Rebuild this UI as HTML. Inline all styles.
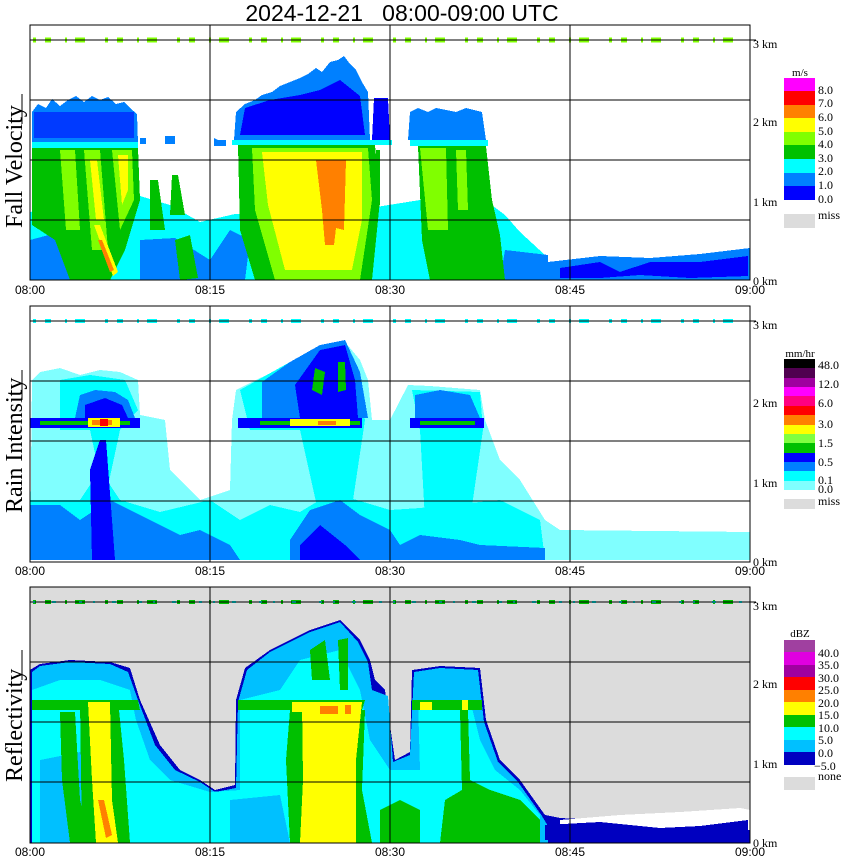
<!DOCTYPE html>
<html><head><meta charset="utf-8"><style>
body{margin:0;background:#fff;}
svg{display:block;font-family:"Liberation Serif",serif;}
.s{font-family:"Liberation Sans",sans-serif;font-size:12px;}
.k{font-size:12px;}
.l{font-size:12px;}
</style></head><body>
<svg width="850" height="868" viewBox="0 0 850 868" shape-rendering="crispEdges">
<text x="402" y="21" text-anchor="middle" font-size="23" font-family="Liberation Sans, sans-serif">2024-12-21&#160;&#160;&#160;08:00-09:00 UTC</text>

<g>
<polygon fill="#00ffff" points="30,212 140,196 170,205 200,222 235,214 370,208 420,200 485,200 505,215 520,232 545,255 548,280 30,280"/>
<polygon fill="#0080ff" points="30,240 60,232 70,280 30,280"/>
<polygon fill="#0080ff" points="140,240 175,238 210,260 230,230 250,240 245,280 140,280"/>
<polygon fill="#0080ff" points="505,250 548,255 548,280 500,280"/>
<polygon fill="#0080ff" points="548,262 600,256 650,258 700,254 750,248 750,280 548,280"/>
<polygon fill="#0000ff" points="560,268 600,262 620,272 650,262 700,262 748,256 748,276 690,278 640,275 600,278 560,278"/>
<polygon fill="#0080ff" points="32,112 38,104 46,108 52,99 60,106 68,100 76,96 84,102 92,96 100,100 108,97 116,104 124,102 130,108 137,114 138,143 32,143"/>
<rect x="34" y="112" width="100" height="26" fill="#0000ff" opacity="0.55"/>
<rect x="32" y="142" width="106" height="6" fill="#00ffff"/>
<polygon fill="#00c000" points="32,148 138,148 140,200 125,250 110,280 70,280 55,240 32,225"/>
<polygon fill="#80ff00" points="60,150 75,150 80,230 66,230"/>
<polygon fill="#80ff00" points="84,150 100,150 108,250 92,250"/>
<polygon fill="#ffff00" points="90,160 97,160 104,220 96,220"/>
<polygon fill="#80ff00" points="112,150 132,150 134,200 120,230"/>
<polygon fill="#ffff00" points="118,155 128,155 128,190 122,205"/>
<polygon fill="#ffff00" points="94,225 100,225 118,272 113,276"/>
<polygon fill="#ff8000" points="98,240 102,240 114,270 110,272"/>
<polygon fill="#00c000" points="150,180 158,180 165,230 150,230"/>
<polygon fill="#00c000" points="172,175 178,175 185,215 170,215"/>
<polygon fill="#00c000" points="175,240 190,235 198,278 180,280"/>
<rect x="140" y="138" width="6" height="6" fill="#0080ff"/>
<rect x="165" y="136" width="10" height="8" fill="#0080ff"/>
<polygon fill="#0080ff" points="214,138 218,140 226,140 226,146 214,146"/>
<polygon fill="#0080ff" points="234,140 236,112 245,104 255,100 262,95 272,92 280,86 290,82 300,78 308,74 316,68 322,72 330,62 338,60 344,56 350,64 356,70 362,82 368,92 370,140"/>
<polygon fill="#0000ff" points="240,135 245,108 270,100 300,95 320,90 340,80 360,96 365,135"/>
<polygon fill="#0000ff" points="372,140 374,98 388,98 390,140"/>
<rect x="232" y="140" width="160" height="5" fill="#00ffff"/>
<polygon fill="#00c000" points="238,145 375,145 380,200 372,280 255,280 240,230"/>
<polygon fill="#80ff00" points="252,148 368,148 372,200 360,280 275,280 255,210"/>
<polygon fill="#ffff00" points="262,152 362,152 362,220 352,270 285,270 268,205"/>
<polygon fill="#ff8000" points="316,160 346,160 344,230 336,228 334,245 325,245 322,210"/>
<rect x="376" y="150" width="4" height="55" fill="#00c000"/>
<polygon fill="#0080ff" points="408,140 410,112 418,108 428,112 436,108 446,110 456,112 466,108 474,110 482,112 486,140"/>
<rect x="410" y="140" width="78" height="6" fill="#00ffff"/>
<polygon fill="#00c000" points="418,146 486,146 492,200 500,235 505,280 430,280 422,240"/>
<polygon fill="#80ff00" points="420,148 446,148 448,230 428,230"/>
<polygon fill="#80ff00" points="456,150 466,150 468,210 458,210"/>
<line x1="33" y1="40" x2="748" y2="40" stroke="#80ff00" stroke-width="5" stroke-dasharray="3 9 6 14 2 8 10 20"/>
</g>

<g>
<polygon fill="#80ffff" points="32,380 40,372 60,368 80,375 100,370 120,372 138,380 140,415 165,420 170,470 200,500 230,490 232,420 236,390 260,378 300,360 320,350 345,342 360,360 368,380 372,420 390,420 408,385 430,386 480,390 485,420 500,460 520,480 545,520 560,530 750,532 750,560 30,560"/>
<polygon fill="#00ffff" points="30,500 80,500 100,470 120,500 160,512 210,500 240,520 270,505 300,512 320,500 350,498 390,510 420,508 500,500 540,520 545,560 30,560"/>
<polygon fill="#00ffff" points="60,380 90,375 125,380 138,410 120,430 105,500 90,430 60,430"/>
<polygon fill="#00ffff" points="240,390 290,362 345,345 365,420 350,520 320,520 300,430 250,430"/>
<polygon fill="#00ffff" points="412,390 480,392 483,430 470,520 425,520 420,430"/>
<polygon fill="#0080ff" points="30,505 60,505 80,520 110,500 150,520 180,535 200,530 230,545 240,560 30,560"/>
<polygon fill="#0080ff" points="290,540 310,510 340,500 360,515 390,530 400,545 420,535 460,540 480,545 545,548 545,560 290,560"/>
<polygon fill="#0000ff" points="90,470 100,440 106,440 115,560 92,560"/>
<polygon fill="#0000ff" points="300,545 320,525 345,545 360,560 300,560"/>
<polygon fill="#0080ff" points="80,395 95,390 115,392 128,400 135,418 75,418"/>
<polygon fill="#0000ff" points="85,405 105,398 122,405 128,418 85,418"/>
<polygon fill="#0080ff" points="262,382 290,362 320,345 345,340 360,372 368,418 262,418"/>
<polygon fill="#0000ff" points="295,385 320,350 345,345 355,380 358,418 300,418"/>
<polygon fill="#00c000" points="315,368 325,372 322,395 312,390"/>
<polygon fill="#00c000" points="338,362 345,362 346,390 338,392"/>
<polygon fill="#0080ff" points="415,395 440,390 470,395 480,418 415,418"/>
<rect x="30" y="418" width="110" height="10" fill="#0000ff"/>
<rect x="238" y="418" width="124" height="10" fill="#0000ff"/>
<rect x="410" y="418" width="74" height="10" fill="#0000ff"/>
<rect x="40" y="421" width="90" height="4" fill="#00c000"/>
<rect x="88" y="418" width="32" height="9" fill="#ffff00"/>
<rect x="92" y="420" width="20" height="5" fill="#ff8000"/>
<rect x="100" y="419" width="8" height="7" fill="#ff0000"/>
<rect x="260" y="421" width="100" height="4" fill="#00c000"/>
<rect x="290" y="419" width="60" height="7" fill="#ffff00"/>
<rect x="318" y="421" width="18" height="4" fill="#ff8000"/>
<rect x="420" y="421" width="55" height="4" fill="#00c000"/>
<line x1="33" y1="321" x2="748" y2="321" stroke="#00ffff" stroke-width="4" stroke-dasharray="3 9 6 14 2 8 10 20"/>
</g>

<g>
<rect x="30" y="587" width="720" height="256" fill="#dcdcdc"/>
<polygon fill="#0000c0" points="30,670 40,664 70,660 110,662 130,668 140,700 160,745 180,770 200,780 215,790 235,785 236,700 245,668 270,650 310,630 340,620 360,640 370,660 375,680 385,690 395,760 410,752 412,670 440,666 480,668 486,720 500,760 520,780 545,815 560,818 600,820 650,815 700,818 750,812 750,843 30,843"/>
<polygon fill="#00c0ff" points="32,672 40,666 70,662 110,664 128,672 138,700 155,745 175,770 200,782 215,792 236,788 238,702 247,670 270,652 310,632 340,622 358,642 368,662 372,690 388,696 393,762 410,755 414,672 440,668 478,670 484,722 498,762 518,782 542,816 548,826 548,843 32,843"/>
<polygon fill="#00ffff" points="32,690 60,680 100,680 130,690 136,720 150,760 170,780 210,792 240,790 240,700 280,690 300,660 340,650 360,690 370,740 390,770 420,770 418,700 470,700 480,740 495,770 520,790 540,815 540,843 32,843"/>
<polygon fill="#00c0ff" points="40,760 90,750 120,800 80,843 40,843"/>
<polygon fill="#00c0ff" points="230,800 280,795 290,843 230,843"/>
<polygon fill="#00c000" points="32,700 138,700 140,710 32,710"/>
<polygon fill="#00c000" points="60,712 75,712 80,800 90,843 70,843 62,780"/>
<polygon fill="#00c000" points="80,700 118,700 124,760 130,843 82,843"/>
<polygon fill="#00c000" points="238,700 365,700 362,710 238,710"/>
<polygon fill="#00c000" points="290,710 365,710 362,790 372,843 290,843 286,760"/>
<polygon fill="#00c000" points="310,650 325,640 330,680 312,680"/>
<polygon fill="#00c000" points="338,640 348,638 348,690 340,690"/>
<polygon fill="#00c000" points="412,700 482,700 482,710 412,710"/>
<polygon fill="#00c000" points="460,710 468,710 470,780 490,790 520,800 540,820 540,843 440,843 445,800 462,790"/>
<polygon fill="#00c000" points="380,810 400,800 420,810 420,843 380,843"/>
<polygon fill="#ffff00" points="88,702 110,702 112,800 118,843 96,843 92,780"/>
<polygon fill="#ffff00" points="302,702 362,702 356,760 356,843 300,843 303,780"/>
<rect x="292" y="702" width="10" height="10" fill="#ffff00"/>
<rect x="420" y="702" width="12" height="8" fill="#ffff00"/>
<rect x="462" y="700" width="6" height="10" fill="#ffff00"/>
<rect x="320" y="706" width="18" height="8" fill="#ff8000"/>
<rect x="345" y="705" width="6" height="9" fill="#ff8000"/>
<polygon fill="#ff8000" points="98,800 104,800 112,835 106,838"/>
<polygon fill="#ffffff" points="560,820 620,815 680,812 740,808 750,810 750,830 560,830"/>
<polygon fill="#0000c0" points="545,825 600,822 660,828 700,826 748,820 748,838 545,840"/>
<line x1="33" y1="602" x2="748" y2="602" stroke="#00c000" stroke-width="4" stroke-dasharray="3 9 6 14 2 8 10 20"/>
<line x1="33" y1="602" x2="748" y2="602" stroke="#00ffff" stroke-width="2" stroke-dasharray="2 17 4 23 3 11"/>
</g>

<g stroke="#000" stroke-width="1.3" fill="none">
<rect x="30" y="25" width="720" height="255"/>
<rect x="30" y="306" width="720" height="256"/>
<rect x="30" y="587" width="720" height="256"/>
<path d="M30 40H750M30 100H750M30 160H750M30 220H750M210 25V280M390 25V280M570 25V280"/>
<path d="M30 321H750M30 381H750M30 441H750M30 501H750M210 306V562M390 306V562M570 306V562"/>
<path d="M30 602H750M30 662H750M30 722H750M30 782H750M210 587V843M390 587V843M570 587V843"/>
<path d="M750 40H756M750 321H756M750 602H756"/>
</g>

<g class="s" text-anchor="middle">
<text x="30" y="294">08:00</text><text x="210" y="294">08:15</text><text x="390" y="294">08:30</text><text x="570" y="294">08:45</text><text x="750" y="294">09:00</text>
<text x="30" y="575">08:00</text><text x="210" y="575">08:15</text><text x="390" y="575">08:30</text><text x="570" y="575">08:45</text><text x="750" y="575">09:00</text>
<text x="30" y="856">08:00</text><text x="210" y="856">08:15</text><text x="390" y="856">08:30</text><text x="570" y="856">08:45</text><text x="750" y="856">09:00</text>
</g>
<g class="k">
<text x="753" y="48">3 km</text><text x="753" y="126">2 km</text><text x="753" y="206">1 km</text><text x="753" y="285">0 km</text>
<text x="753" y="329">3 km</text><text x="753" y="407">2 km</text><text x="753" y="487">1 km</text><text x="753" y="566">0 km</text>
<text x="753" y="610">3 km</text><text x="753" y="688">2 km</text><text x="753" y="768">1 km</text><text x="753" y="847">0 km</text>
</g>
<g font-size="24">
<text transform="translate(22,228) rotate(-90)">Fall Velocity</text>
<text transform="translate(22,513) rotate(-90)">Rain Intensity</text>
<text transform="translate(22,782) rotate(-90)">Reflectivity</text>
</g>
<path d="M22 94V124M22 370V400M22 650V680" stroke="#000" stroke-width="1"/>

<g>
<text x="800" y="76" text-anchor="middle" font-size="11">m/s</text>
<rect x="784" y="78" width="31" height="14" fill="#ff00ff"/>
<rect x="784" y="91" width="31" height="14" fill="#ff0000"/>
<rect x="784" y="105" width="31" height="14" fill="#ff8000"/>
<rect x="784" y="118" width="31" height="14" fill="#ffff00"/>
<rect x="784" y="132" width="31" height="14" fill="#80ff00"/>
<rect x="784" y="145" width="31" height="14" fill="#00c000"/>
<rect x="784" y="159" width="31" height="14" fill="#00ffff"/>
<rect x="784" y="173" width="31" height="14" fill="#0080ff"/>
<rect x="784" y="186" width="31" height="14" fill="#0000ff"/>
<rect x="784" y="214" width="31" height="14" fill="#dcdcdc"/>
<g class="l"><text x="818" y="94">8.0</text><text x="818" y="107">7.0</text><text x="818" y="121">6.0</text><text x="818" y="135">5.0</text><text x="818" y="148">4.0</text><text x="818" y="162">3.0</text><text x="818" y="175">2.0</text><text x="818" y="189">1.0</text><text x="818" y="203">0.0</text><text x="818" y="219">miss</text></g>
</g>
<g>
<text x="800" y="357" text-anchor="middle" font-size="11">mm/hr</text>
<rect x="784" y="359" width="31" height="10" fill="#000000"/>
<rect x="784" y="368" width="31" height="10" fill="#500050"/>
<rect x="784" y="378" width="31" height="10" fill="#a000a0"/>
<rect x="784" y="387" width="31" height="10" fill="#ff00ff"/>
<rect x="784" y="396" width="31" height="10" fill="#ff0080"/>
<rect x="784" y="406" width="31" height="10" fill="#ff0000"/>
<rect x="784" y="415" width="31" height="10" fill="#ff8000"/>
<rect x="784" y="425" width="31" height="10" fill="#ffff00"/>
<rect x="784" y="434" width="31" height="10" fill="#80ff40"/>
<rect x="784" y="443" width="31" height="10" fill="#00c000"/>
<rect x="784" y="453" width="31" height="10" fill="#0000ff"/>
<rect x="784" y="462" width="31" height="10" fill="#0080ff"/>
<rect x="784" y="471" width="31" height="10" fill="#00ffff"/>
<rect x="784" y="481" width="31" height="9" fill="#80ffff"/>
<rect x="784" y="499" width="31" height="10" fill="#dcdcdc"/>
<g class="l"><text x="818" y="369">48.0</text><text x="818" y="388">12.0</text><text x="818" y="407">6.0</text><text x="818" y="428">3.0</text><text x="818" y="447">1.5</text><text x="818" y="466">0.5</text><text x="818" y="484">0.1</text><text x="818" y="493">0.0</text><text x="818" y="505">miss</text></g>
</g>
<g>
<text x="800" y="637" text-anchor="middle" font-size="11">dBZ</text>
<rect x="784" y="640" width="31" height="13" fill="#a040a0"/>
<rect x="784" y="652" width="31" height="13" fill="#e000e0"/>
<rect x="784" y="665" width="31" height="13" fill="#a000a0"/>
<rect x="784" y="677" width="31" height="13" fill="#ff0000"/>
<rect x="784" y="690" width="31" height="13" fill="#ff8000"/>
<rect x="784" y="702" width="31" height="13" fill="#ffff00"/>
<rect x="784" y="715" width="31" height="13" fill="#00c000"/>
<rect x="784" y="727" width="31" height="13" fill="#00ffff"/>
<rect x="784" y="740" width="31" height="13" fill="#00c0ff"/>
<rect x="784" y="752" width="31" height="13" fill="#0000c0"/>
<rect x="784" y="777" width="31" height="13" fill="#dcdcdc"/>
<g class="l"><text x="818" y="657">40.0</text><text x="818" y="669">35.0</text><text x="818" y="682">30.0</text><text x="818" y="694">25.0</text><text x="818" y="707">20.0</text><text x="818" y="719">15.0</text><text x="818" y="732">10.0</text><text x="818" y="744">5.0</text><text x="818" y="757">0.0</text><text x="814" y="770">−5.0</text><text x="818" y="780">none</text></g>
</g>
</svg>
</body></html>
